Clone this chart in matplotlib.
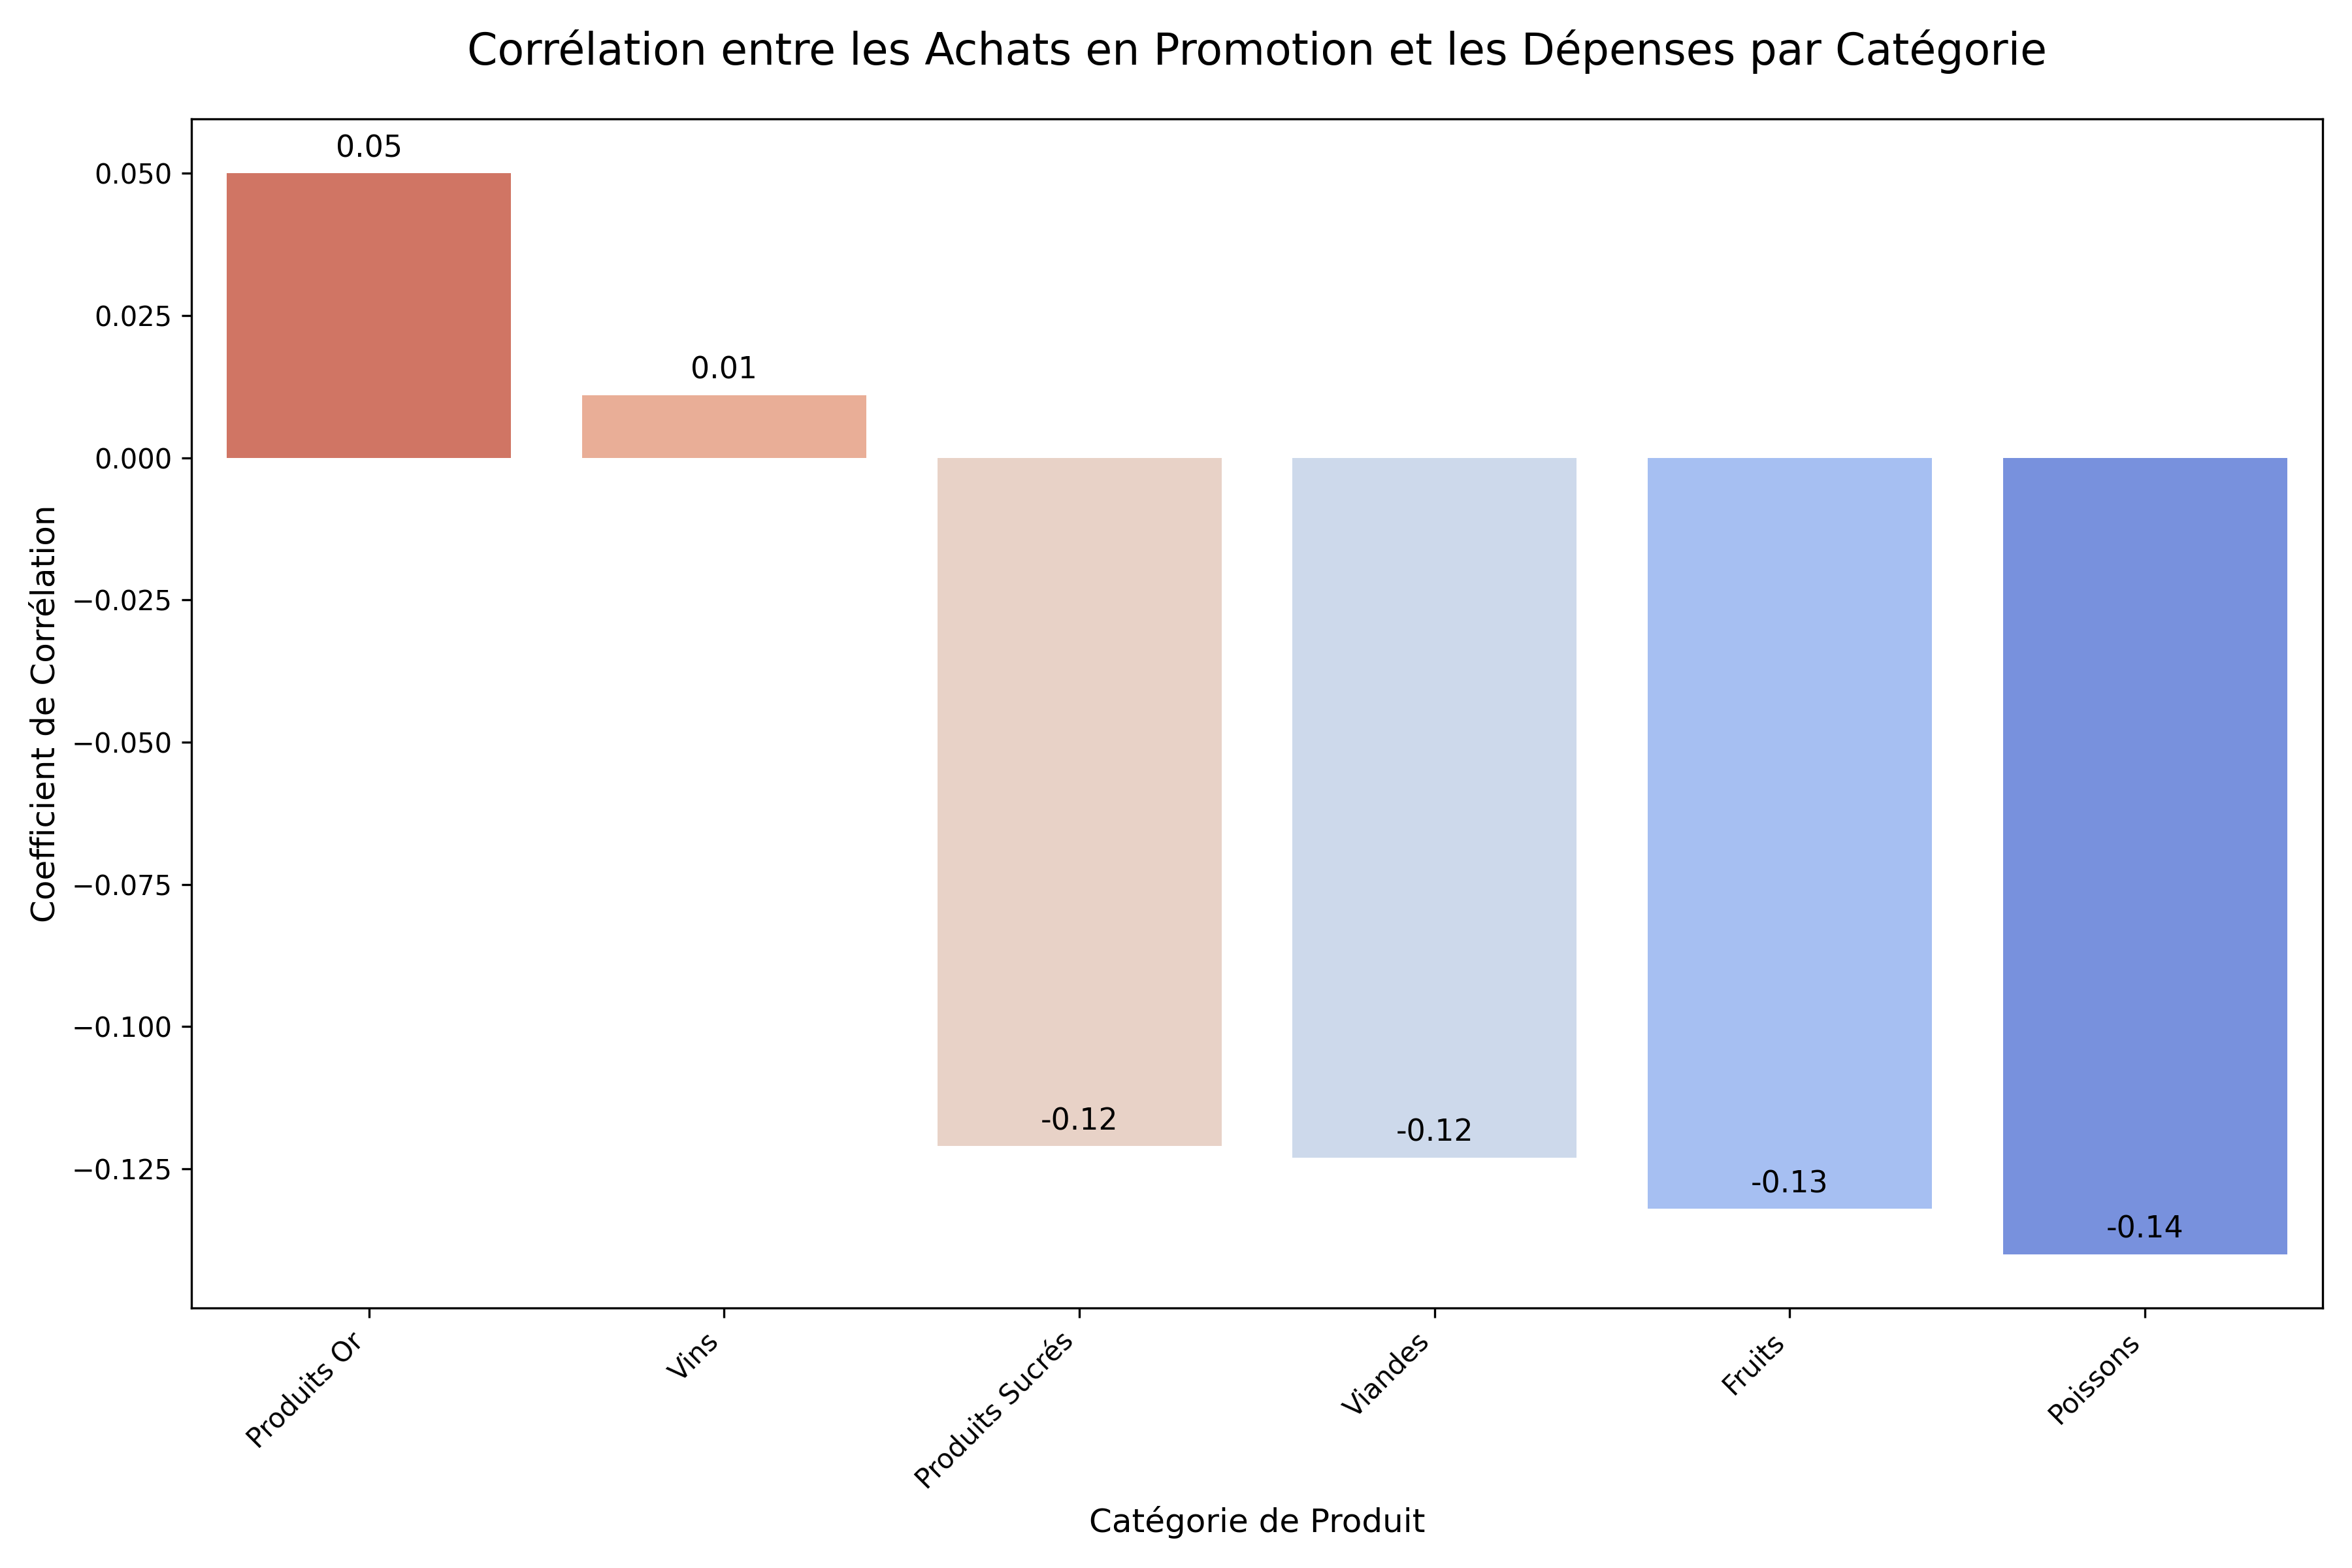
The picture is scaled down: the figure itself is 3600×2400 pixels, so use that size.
import matplotlib
matplotlib.use("Agg")
import matplotlib.pyplot as plt
import seaborn as sns
import pandas as pd

categories = ["Produits Or", "Vins", "Produits Sucrés", "Viandes", "Fruits", "Poissons"]
correlations = [0.050, 0.011, -0.121, -0.123, -0.132, -0.140]

df = pd.DataFrame({"Catégorie": categories, "Corrélation": correlations})

fig, ax = plt.subplots(figsize=(12, 8), dpi=300)
sns.barplot(data=df, x="Catégorie", y="Corrélation", hue="Catégorie",
            palette="coolwarm_r", legend=False, ax=ax)

for p in ax.patches:
    h = p.get_height()
    ax.annotate(f"{h:.2f}", (p.get_x() + p.get_width() / 2., h),
                ha="center", va="center", xytext=(0, 9),
                textcoords="offset points", fontsize=11)

ax.set_title("Corrélation entre les Achats en Promotion et les Dépenses par Catégorie",
             fontsize=16, pad=20)
ax.set_xlabel("Catégorie de Produit", fontsize=12)
ax.set_ylabel("Coefficient de Corrélation", fontsize=12)
plt.setp(ax.get_xticklabels(), rotation=45, ha="right")
plt.tight_layout()
plt.savefig("out.png", dpi=300)
